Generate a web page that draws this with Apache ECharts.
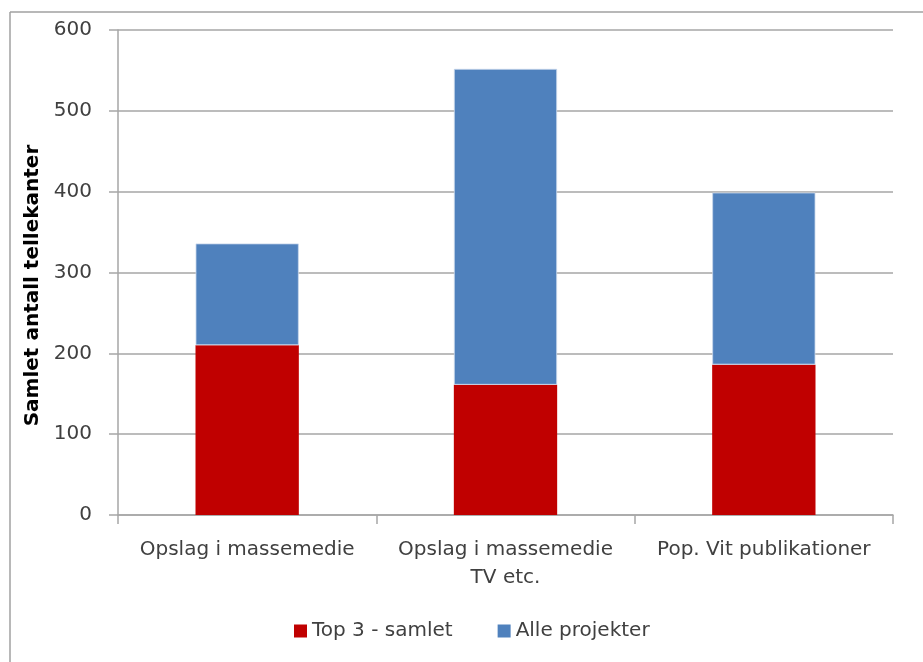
<!DOCTYPE html>
<html>
<head>
<meta charset="utf-8">
<script src="https://cdn.jsdelivr.net/npm/echarts@6/dist/echarts.min.js"></script>
<style>
  html, body { margin: 0; padding: 0; background: #ffffff; }
  #chart { width: 923px; height: 662px; }
</style>
</head>
<body>
<div id="chart"></div>
<script>
// Categories and stacked series values
const categories = ['Opslag i massemedie', 'Opslag i massemedie\nTV etc.', 'Pop. Vit publikationer'];
const top3Samlet = [210, 161, 186];
const alleProjekter = [126, 391, 213];
const yTicks = { min: 0, max: 600, interval: 100 };

const seriesNames = ['Top 3 - samlet', 'Alle projekter'];
const textColor = '#404040';
const lineColor = '#a6a6a6';
const font = '"DejaVu Sans", sans-serif';

const chart = echarts.init(document.getElementById('chart'));
chart.setOption({
  animation: false,
  backgroundColor: '#ffffff',
  grid: { left: 118, right: 30, top: 30, bottom: 147 },
  legend: {
    data: [
      { name: seriesNames[0], itemStyle: { color: '#C00000', borderWidth: 0 } },
      { name: seriesNames[1], itemStyle: { color: '#4F81BD', borderWidth: 0 } }
    ],
    left: 289,
    top: 616,
    itemWidth: 13,
    itemHeight: 13,
    itemGap: 45,
    icon: 'rect',
    textStyle: { color: textColor, fontSize: 20, fontFamily: font }
  },
  xAxis: {
    type: 'category',
    data: categories,
    axisLine: { lineStyle: { color: lineColor, width: 1.5 } },
    axisTick: { show: true, length: 9, lineStyle: { color: lineColor, width: 1.5 } },
    axisLabel: {
      color: textColor, fontSize: 20, fontFamily: font,
      margin: 21, lineHeight: 28, interval: 0
    },
    splitLine: { show: false }
  },
  yAxis: {
    type: 'value',
    min: yTicks.min,
    max: yTicks.max,
    interval: yTicks.interval,
    name: 'Samlet antall tellekanter',
    nameLocation: 'middle',
    nameGap: 74,
    nameTextStyle: {
      color: '#000000', fontSize: 20, fontWeight: 'bold', fontFamily: font,
      padding: [0, 26, 0, 0]
    },
    axisLine: { show: true, lineStyle: { color: lineColor, width: 1.5 } },
    axisTick: { show: true, length: 9, lineStyle: { color: lineColor, width: 1.5 } },
    axisLabel: { color: textColor, fontSize: 20, fontFamily: font, margin: 26 },
    splitLine: { lineStyle: { color: lineColor, width: 1.5 } }
  },
  series: [
    {
      name: seriesNames[0],
      type: 'bar',
      stack: 'total',
      data: top3Samlet,
      barCategoryGap: '60%',
      itemStyle: { color: '#C00000' }
    },
    {
      name: seriesNames[1],
      type: 'bar',
      stack: 'total',
      data: alleProjekter,
      barCategoryGap: '60%',
      itemStyle: { color: '#4F81BD', borderColor: 'rgba(200,215,235,0.8)', borderWidth: 1 }
    }
  ],
  graphic: [
    { type: 'line', shape: { x1: 10, y1: 12, x2: 923, y2: 12 }, style: { stroke: '#a0a0a0', lineWidth: 1.5 } },
    { type: 'line', shape: { x1: 10, y1: 12, x2: 10, y2: 662 }, style: { stroke: '#a0a0a0', lineWidth: 1.5 } }
  ]
});
</script>
</body>
</html>
